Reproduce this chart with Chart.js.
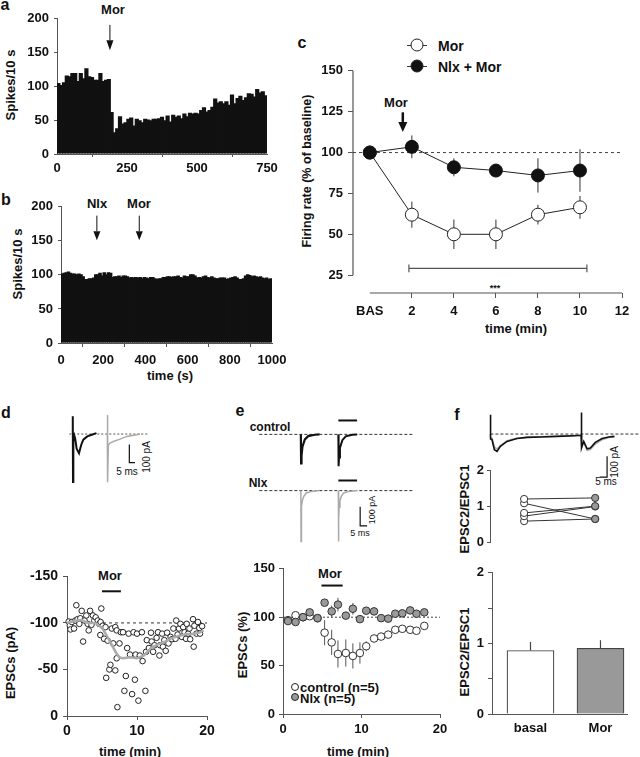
<!DOCTYPE html>
<html>
<head>
<meta charset="utf-8">
<script src="https://cdn.jsdelivr.net/npm/chart.js@4.4.1/dist/chart.umd.min.js"></script>
<style>
  html, body { margin: 0; padding: 0; background: #fff; }
  #fig { position: relative; width: 640px; height: 757px; overflow: hidden;
         font-family: "Liberation Sans", Arial, Helvetica, sans-serif; color: #111; }
  #fig canvas { position: absolute; }
  .t { position: absolute; transform: translate(-50%, -50%); white-space: nowrap;
       font-weight: bold; font-size: 13px; line-height: 1; }
  .l { transform: translate(0, -50%); }
  .r90 { transform: translate(-50%, -50%) rotate(-90deg); }
  .big { font-size: 16px; }
  .thin { font-weight: normal; font-size: 10px; }
  .dot { position: absolute; border-radius: 50%; box-sizing: border-box; border: 1px solid #222;
         transform: translate(-50%, -50%); }
  .stub { position: absolute; height: 1px; background: #333; }
</style>
</head>
<body>
<div id="fig">
  <!-- panel a / b -->
  <div class="t big" style="left:5px;top:5px">a</div>
  <div class="t" style="left:113px;top:9px">Mor</div>
  <div class="t r90" style="left:10px;top:85px">Spikes/10 s</div>
  <div class="t big" style="left:6px;top:200px">b</div>
  <div class="t" style="left:97px;top:203px">Nlx</div>
  <div class="t" style="left:139px;top:203px">Mor</div>
  <div class="t r90" style="left:17px;top:264px">Spikes/10 s</div>
  <div class="t" style="left:170px;top:375px">time (s)</div>

  <!-- panel c -->
  <div class="t big" style="left:302px;top:43px">c</div>
  <div class="stub" style="left:407px;top:45px;width:20px"></div>
  <span class="dot" style="left:417px;top:45px;width:13px;height:13px;background:#fff"></span>
  <div class="t l" style="left:438px;top:46px;font-size:14px">Mor</div>
  <div class="stub" style="left:407px;top:66px;width:20px"></div>
  <span class="dot" style="left:417px;top:66px;width:13px;height:13px;background:#111"></span>
  <div class="t l" style="left:438px;top:67px;font-size:14px">Nlx + Mor</div>
  <div class="t" style="left:396px;top:102px">Mor</div>
  <div class="t r90" style="left:307px;top:171px;font-size:12.5px">Firing rate (% of baseline)</div>
  <div class="t" style="left:495px;top:288px;font-size:9px">***</div>
  <div class="t" style="left:516px;top:328px">time (min)</div>

  <!-- panel d -->
  <div class="t big" style="left:6px;top:413px">d</div>
  <div class="t thin" style="left:127px;top:472px">5 ms</div>
  <div class="t thin r90" style="left:147px;top:457px">100 pA</div>
  <div class="t" style="left:110px;top:575px">Mor</div>
  <div class="t r90" style="left:10px;top:663px">EPSCs (pA)</div>
  <div class="t" style="left:130px;top:751px">time (min)</div>

  <!-- panel e -->
  <div class="t big" style="left:240px;top:411px">e</div>
  <div class="t" style="left:270px;top:427px;font-size:12px">control</div>
  <div class="t" style="left:258px;top:483px;font-size:12px">Nlx</div>
  <div class="t thin r90" style="left:372px;top:510px;font-size:9px">100 pA</div>
  <div class="t thin" style="left:360px;top:533px;font-size:9px">5 ms</div>
  <div class="t" style="left:330px;top:573px">Mor</div>
  <div class="t r90" style="left:242px;top:645px">EPSCs (%)</div>
  <div class="t" style="left:358px;top:751px">time (min)</div>
  <span class="dot" style="left:295px;top:687px;width:8px;height:8px;background:#fff"></span>
  <div class="t l" style="left:300px;top:687px">control (n=5)</div>
  <span class="dot" style="left:295px;top:697px;width:8px;height:8px;background:#999"></span>
  <div class="t l" style="left:300px;top:698px">Nlx (n=5)</div>

  <!-- panel f -->
  <div class="t big" style="left:457px;top:415px">f</div>
  <div class="t thin r90" style="left:615px;top:462px">100 pA</div>
  <div class="t thin" style="left:606px;top:482px">5 ms</div>
  <div class="t r90" style="left:464px;top:509px">EPSC2/EPSC1</div>
  <div class="t r90" style="left:464px;top:652px">EPSC2/EPSC1</div>
</div>

<script>
// ----------------------------
// DATA
// ----------------------------
// a: spikes per 10 s bin, morphine at ~190 s
const aBinSec = 10;
const aCounts = [105,102,106,116,115,120,120,108,120,112,127,115,114,110,110,120,108,110,111,
  62,32,38,56,45,47,52,54,42,52,50,47,52,51,50,52,52,53,55,50,
  57,48,58,55,57,53,60,56,61,60,61,60,65,69,63,65,70,82,76,78,
  75,78,73,88,75,83,86,80,84,90,89,85,96,91,93,87];
const aArrowX = [189];
const aArrowTop = 191, aArrowTip = 153.6;

// b: spikes per 10 s bin, naloxone then morphine
const bBinSec = 10;
const bCounts = [102,103,104,105,103,102,102,101,102,101,
  98,94,94,95,95,96,101,101,103,99,
  104,101,104,103,97,98,98,99,97,99,
  99,98,96,97,96,97,96,97,95,97,
  96,95,97,97,95,94,95,95,97,97,
  98,98,97,98,98,99,97,96,99,98,
  98,101,101,99,96,97,96,98,99,97,
  96,98,96,95,95,96,96,96,94,95,
  96,97,98,96,94,94,95,99,101,100,
  98,99,98,97,98,96,95,96,94,95];
const bArrowX = [170, 371];
const bArrowTop = 187, bArrowTip = 151;

// c: firing rate (% of baseline)
const cTime = [0, 2, 4, 6, 8, 10];
const cMor = [100, 62, 50, 50, 62, 66.5];
const cMorErr = [0, 8, 9, 9, 6, 7];
const cNlx = [100, 103.5, 91, 89, 86, 89];
const cNlxErr = [0, 7, 5.5, 2, 10.5, 13];
const cYTicks = [25, 50, 75, 100, 125, 150];
const cXTicks = [0, 2, 4, 6, 8, 10, 12];
const cBracketX = [1.86, 1.86, 1.86, 10.33, 10.33, 10.33];
const cBracketY = [31.6, 26.8, 29.2, 29.2, 31.6, 26.8];
const cArrowX = [1.57];
const cArrowTop = 124.6, cArrowTip = 112.6;

// d: single-cell EPSCs (pA)
const dTime = [0.24,0.4,0.5,0.7,1,1.2,1.33,1.5,1.76,1.9,2.1,2.3,2.5,2.76,2.95,3.1,3.3,3.5,3.7,3.9,
  4.1,4.4,4.6,4.8,4.9,5.1,4.76,5.3,5.5,5.6,5.8,6.05,6.2,6.4,6.6,6.9,6.9,7.1,7.1,7.2,
  7.5,7.7,8,8.2,8.4,8.6,8.8,9,9.3,9.5,9.7,9.8,10,10.2,10.4,10.7,10.8,11.2,11.3,11.4,
  11.7,12,12.1,12.3,12.5,12.8,13,13.2,13.3,13.6,13.7,13.9,14.1,14.3,14.5,14.8,15,15.2,15.5,15.6,
  15.8,16,16.2,16.4,16.6,16.8,17,17.1,17.3,17.5,17.6,18,18.1,18.2,18.5,18.7,18.9,19,19.3];
const dEpsc = [-101.5,-97,-93,-101,-94,-102.6,-119,-104,-99,-105,-113,-80,-102.6,-108,-99,-92,-113,-98,-108,-102.6,
  -106,-102.6,-99,-101,-115.5,-97,-87,-83,-95.5,-41,-81,-50,-55,-94,-78,-95.5,-49,-92,-62,-9.5,
  -78,-90,-90,-27,-43,-73,-88.5,-66,-23.5,-90,-39,-66,-88.5,-16.5,-65,-90,-59,-27,-69,-81.5,
  -73,-89.5,-80,-69,-76,-84,-90,-65,-76,-88.5,-74.5,-81.5,-70,-89.5,-78,-85,-82.5,-94,-83,-102.6,
  -87.5,-94,-99,-85,-95.5,-90,-83,-99,-88.5,-94,-82.5,-104,-74.5,-97,-88.5,-101,-94.5,-88.5,-96.5];
const dAvgTime = [0,1,2,3,4,5,6,7,7.5,8,9,10,11,12,13,14,15,16,17,18,19,19.5];
const dAvg = [-100,-102,-103,-100,-100,-95,-82,-68,-63,-62,-63,-62,-65,-73,-77,-80,-84,-86,-88,-88,-90,-92];
const dMorBar = [5, 7.7];

// d traces (ms, pA)
const dBlackX = [0, 0.1, 0.3, 0.6, 1.5, 2.2, 3.5, 5.6, 7.5, 9.4, 12.9, 16.8, 21];
const dBlackY = [0, 98, -263, -40, -10, -25, -80, -105, -60, -31, -13, -4, 5];
const dGrayX = [30.6, 30.7, 30.9, 31.5, 32.9, 35.9, 41.8, 47.6, 56.5, 59.4];
const dGrayY = [0, 105, -265, -60, -50, -41, -28, -13, -4, 0];
const dBaseX = [-3, 67];
const dScaleX = [50, 50, 55], dScaleY = [-57, -157, -157];

// e: normalised EPSCs (%)
const eTime = [0.64,1.6,2.55,3.4,4.4,5.3,6.2,7.0,8.0,8.9,9.8,10.6,11.6,12.5,13.4,14.3,15.2,16.2,17.0,18.0];
const eCtrl = [97,102,100,101,99,84,74,62,63,60,63,70,78,80,82,87,88,87,86,91];
const eCtrlErr = [2,2,2,2,2,13,13,14,14,13,11,5,3,2,2,2,2,2,2,2];
const eNlx = [96,95,100,105,99,115,106,113,101.6,108.7,98,106.7,106,99,98.5,103.6,104,107,103.6,105];
const eNlxErr = [2,2,2,2,2,3,6,7,3,6,2,3,3,2,2,2,2,2,2,2];
const eMorBar = [4.9, 7.6];

// e traces (ms, pA)
const eCtrl1X = [0, 0.2, 0.5, 1.2, 3, 5.5, 10.5, 14];
const eCtrl1Y = [0, -150, -110, -64, -26, -9, -2, 0];
const eCtrl2X = [28, 28.2, 28.5, 29.2, 31, 33.5, 38.5, 42];
const eCtrl2Y = [0, -165, -120, -70, -30, -10, -2, 0];
const eNlx1X = [0, 0.15, 0.3, 0.6, 1.2, 2.2, 4, 8, 14];
const eNlx1Y = [0, -262, -150, -81, -50, -29, -12, -4, 0];
const eNlx2X = [28, 28.15, 28.3, 28.6, 29.2, 30.2, 32, 36, 42];
const eNlx2Y = [0, -262, -150, -85, -52, -30, -12, -4, 0];
const eBaseX = [-31, 84];
const eBarX = [28, 42];
const eScaleX = [44.3, 44.3, 49.5], eScaleY = [-83, -181, -181];

// f: paired-pulse ratio
const fPairBasal = [1.21, 1.09, 0.82, 0.73, 0.59];
const fPairMor = [1.24, 0.65, 1.01, 1.0, 0.65];
const fBarLabels = ['basal', 'Mor'];
const fBarMeans = [0.9, 0.93];
const fBarSem = [0.12, 0.115];

// f traces (ms, pA)
const fBlackX = [0, 0, 0.2, 1.1, 2.7, 4.5, 6.8, 11.3, 18.1, 24.9, 34, 45.4, 56.7, 61.7, 61.9, 62.1, 63.5, 65.8, 68, 71.4, 76, 80.5, 84.4];
const fBlackY = [0, 92, -24, -27, -75, -83, -59, -35, -21, -16, -14, -11, -8, -6, 103, -67, -35, -71, -67, -40, -21, -14, -11];
const fGrayX = [0.3, 1.1, 2.7, 4.5, 6.8, 11.3, 18.1, 24.9, 34, 45.4, 56.7, 61.7, 62.3, 63.5, 65.8, 68, 71.4, 76, 80.5, 84.4];
const fGrayY = [-15, -20, -62, -72, -55, -32, -20, -15, -13, -10, -8, -6, -50, -40, -78, -74, -48, -27, -17, -13];
const fBaseX = [0, 101.6];
const fScaleX = [74.4, 79.4, 79.4], fScaleY = [-206, -206, -106];

// ----------------------------
// HELPERS
// ----------------------------
Chart.defaults.font.family = '"Liberation Sans", Arial, Helvetica, sans-serif';
Chart.defaults.font.weight = 'bold';
Chart.defaults.font.size = 13;
Chart.defaults.color = '#111';
Chart.defaults.plugins.legend.display = false;
Chart.defaults.plugins.tooltip.enabled = false;
Chart.defaults.events = [];

const fig = document.getElementById('fig');

function series(xs, ys) {
  return xs.map((x, i) => ({ x, y: ys[i] }));
}

// area = chart area in page pixels, pad = room for the axes around it
function addChart(area, pad, config) {
  const [x1, y1, x2, y2] = area;
  const [pl, pt, pr, pb] = pad;
  const w = x2 - x1 + pl + pr, h = y2 - y1 + pt + pb;
  const cv = document.createElement('canvas');
  cv.width = w; cv.height = h;
  cv.style.left = (x1 - pl) + 'px';
  cv.style.top = (y1 - pt) + 'px';
  cv.style.width = w + 'px';
  cv.style.height = h + 'px';
  fig.appendChild(cv);

  const sc = config.options.scales;
  const xShown = sc.x.display !== false, yShown = sc.y.display !== false;
  if (xShown) sc.x.afterFit = s => { s.height = pb; };
  if (yShown) sc.y.afterFit = s => { s.width = pl; };
  config.options.layout = { padding: { left: yShown ? 0 : pl, top: pt, right: pr, bottom: xShown ? 0 : pb } };
  config.options.responsive = false;
  config.options.animation = false;
  return new Chart(cv, config);
}

function axis(min, max, o = {}) {
  const a = {
    type: 'linear', min, max, offset: false, reverse: !!o.reverse,
    grid: { drawOnChartArea: false, drawTicks: true, tickLength: o.tick ?? 4, color: '#555', lineWidth: 1 },
    border: { display: o.border !== false, color: '#555', width: 1 },
    ticks: { padding: o.pad ?? 4, autoSkip: false, maxRotation: 0,
             font: { size: o.size ?? 13, weight: 'bold' }, color: '#111',
             callback: o.cb || (v => String(v)) }
  };
  if (o.step) a.ticks.stepSize = o.step;
  if (o.ticks) a.afterBuildTicks = s => { s.ticks = o.ticks.map(v => ({ value: v })); };
  return a;
}

function hidden(min, max) {
  return { type: 'linear', min, max, display: false };
}

function line(data, color, width, extra = {}) {
  return Object.assign({ data, borderColor: color, borderWidth: width, pointRadius: 0, clip: false, tension: 0 }, extra);
}

// vertical error bars from dataset.err
const errorBars = {
  id: 'errorBars',
  beforeDatasetsDraw(chart) {
    const { ctx, scales: { x, y } } = chart;
    chart.data.datasets.forEach(ds => {
      if (!ds.err) return;
      ctx.save();
      ctx.strokeStyle = ds.errColor || '#333';
      ctx.lineWidth = ds.errWidth || 1;
      ds.data.forEach((p, i) => {
        const e = ds.err[i];
        if (!e) return;
        const px = x.getPixelForValue(p.x);
        ctx.beginPath();
        ctx.moveTo(px, y.getPixelForValue(ds.errUpOnly ? p.y : p.y - e));
        ctx.lineTo(px, y.getPixelForValue(p.y + e));
        ctx.stroke();
      });
      ctx.restore();
    });
  }
};

function arrows(xs, top, tip, head, width) {
  return {
    id: 'arrows',
    afterDatasetsDraw(chart) {
      const { ctx, scales: { x, y } } = chart;
      ctx.save();
      ctx.fillStyle = ctx.strokeStyle = '#111';
      ctx.lineWidth = width;
      xs.forEach(v => {
        const px = x.getPixelForValue(v);
        const y1 = y.getPixelForValue(top), y2 = y.getPixelForValue(tip);
        ctx.beginPath();
        ctx.moveTo(px, y1);
        ctx.lineTo(px, y2 - head[1]);
        ctx.stroke();
        ctx.beginPath();
        ctx.moveTo(px - head[0] / 2, y2 - head[1]);
        ctx.lineTo(px + head[0] / 2, y2 - head[1]);
        ctx.lineTo(px, y2);
        ctx.closePath();
        ctx.fill();
      });
      ctx.restore();
    }
  };
}

// ----------------------------
// PANEL a
// ----------------------------
addChart([57, 16, 267, 154], [50, 10, 20, 24], {
  type: 'bar',
  data: { datasets: [{
    data: aCounts.map((v, i) => ({ x: (i + 0.5) * aBinSec, y: v })),
    backgroundColor: '#111', borderWidth: 0, barPercentage: 1.5, categoryPercentage: 1
  }] },
  options: { scales: {
    x: axis(0, 750, { step: 250, tick: 3, pad: 4 }),
    y: axis(0, 200, { step: 50, tick: 3, pad: 5 })
  } },
  plugins: [arrows(aArrowX, aArrowTop, aArrowTip, [7, 10], 1)]
});

// ----------------------------
// PANEL b
// ----------------------------
addChart([61, 204, 272, 343], [54, 10, 22, 26], {
  type: 'bar',
  data: { datasets: [{
    data: bCounts.map((v, i) => ({ x: (i + 0.5) * bBinSec, y: v })),
    backgroundColor: '#111', borderWidth: 0, barPercentage: 1.7, categoryPercentage: 1
  }] },
  options: { scales: {
    x: axis(0, 1000, { step: 200, tick: 4, pad: 6 }),
    y: axis(0, 200, { step: 50, tick: 3, pad: 5 })
  } },
  plugins: [arrows(bArrowX, bArrowTop, bArrowTip, [7, 9], 1)]
});

// ----------------------------
// PANEL c
// ----------------------------
const cAxisLines = {
  id: 'cAxisLines',
  beforeDatasetsDraw(chart) {
    const { ctx, chartArea: a, scales: { x, y } } = chart;
    ctx.save();
    ctx.strokeStyle = '#555';
    ctx.lineWidth = 1.2;
    ctx.beginPath();
    ctx.moveTo(a.left, y.getPixelForValue(cYTicks[0]));
    ctx.lineTo(a.left, y.getPixelForValue(cYTicks[cYTicks.length - 1]));
    ctx.moveTo(x.getPixelForValue(cXTicks[0]), a.bottom);
    ctx.lineTo(x.getPixelForValue(cXTicks[cXTicks.length - 1]), a.bottom);
    ctx.stroke();
    ctx.restore();
  }
};
const cX = axis(-0.8, 12, { ticks: cXTicks, border: false, tick: 5, pad: 6, cb: v => v === 0 ? 'BAS' : String(v) });
cX.grid.color = c => (c.tick && c.tick.value === 0) ? 'rgba(0,0,0,0)' : '#555';
addChart([353, 68, 622, 293], [40, 10, 14, 26], {
  type: 'line',
  data: { datasets: [
    line(series(cTime, cNlx), '#222', 1, { err: cNlxErr, pointRadius: 6.5,
      pointBackgroundColor: '#111', pointBorderColor: '#111', pointBorderWidth: 1 }),
    line(series(cTime, cMor), '#222', 1, { err: cMorErr, pointRadius: 6.5,
      pointBackgroundColor: '#fff', pointBorderColor: '#222', pointBorderWidth: 1 }),
    line([{ x: -0.8, y: 100 }, { x: 12, y: 100 }], '#444', 1, { borderDash: [3, 3] }),
    line(series(cBracketX, cBracketY), '#555', 1.2)
  ] },
  options: { scales: {
    x: cX,
    y: axis(14.1, 150, { ticks: cYTicks, border: false, tick: 5, pad: 5 })
  } },
  plugins: [errorBars, cAxisLines, arrows(cArrowX, cArrowTop, cArrowTip, [9, 10], 2.5)]
});

// ----------------------------
// PANEL d
// ----------------------------
addChart([67, 414, 152, 485], [0, 0, 0, 0], {
  type: 'line',
  data: { datasets: [
    line(series(dBlackX, dBlackY), '#111', 2),
    line(series(dGrayX, dGrayY), '#aaa', 1.5),
    line(series(dBaseX, [0, 0]), '#555', 1, { borderDash: [2, 2] }),
    line(series(dScaleX, dScaleY), '#111', 1.2)
  ] },
  options: { scales: { x: hidden(-5, 70), y: hidden(-280, 110) } }
});

addChart([67, 573, 207, 716], [44, 10, 14, 24], {
  type: 'line',
  data: { datasets: [
    line(series(dAvgTime, dAvg), '#aaa', 2.5),
    line(series(dTime, dEpsc), '#222', 1, { showLine: false, pointRadius: 2.8,
      pointBackgroundColor: '#fff', pointBorderColor: '#222', pointBorderWidth: 1 }),
    line([{ x: 0, y: -100 }, { x: 20, y: -100 }], '#333', 1, { borderDash: [3, 3] }),
    line(series(dMorBar, [-134, -134]), '#111', 2)
  ] },
  options: { scales: {
    x: axis(0, 20, { step: 10, tick: 4, pad: 3, size: 14 }),
    y: axis(-150, 0, { step: 50, reverse: true, tick: 4, pad: 5, size: 14 })
  } }
});

// ----------------------------
// PANEL e
// ----------------------------
addChart([258, 417, 416, 473], [0, 0, 0, 0], {
  type: 'line',
  data: { datasets: [
    line(series(eCtrl1X, eCtrl1Y), '#111', 2.2),
    line(series(eCtrl2X, eCtrl2Y), '#111', 2),
    line(series(eBaseX, [0, 0]), '#333', 1, { borderDash: [3, 2] }),
    line(series(eBarX, [72, 72]), '#111', 2)
  ] },
  options: { scales: { x: hidden(-32, 86), y: hidden(-200, 90) } }
});

addChart([258, 477, 416, 547], [0, 0, 0, 0], {
  type: 'line',
  data: { datasets: [
    line(series(eNlx1X, eNlx1Y), '#aaa', 1.5),
    line(series(eNlx2X, eNlx2Y), '#aaa', 1.5),
    line(series(eBaseX, [0, 0]), '#333', 1, { borderDash: [3, 2] }),
    line(series(eBarX, [52, 52]), '#111', 2),
    line(series(eScaleX, eScaleY), '#111', 1.2)
  ] },
  options: { scales: { x: hidden(-32, 86), y: hidden(-290, 70) } }
});

addChart([283, 567, 440, 714], [38, 10, 14, 24], {
  type: 'line',
  data: { datasets: [
    line(series(eTime, eNlx), '#333', 1, { showLine: false, err: eNlxErr, errColor: '#555', pointRadius: 3.8,
      pointBackgroundColor: '#999', pointBorderColor: '#333', pointBorderWidth: 1 }),
    line(series(eTime, eCtrl), '#333', 1, { showLine: false, err: eCtrlErr, errColor: '#555', pointRadius: 3.8,
      pointBackgroundColor: '#fff', pointBorderColor: '#333', pointBorderWidth: 1 }),
    line([{ x: 0, y: 100 }, { x: 20, y: 100 }], '#444', 1, { borderDash: [2, 2] }),
    line(series(eMorBar, [132.7, 132.7]), '#111', 2)
  ] },
  options: { scales: {
    x: axis(0, 20, { step: 10, tick: 4, pad: 4 }),
    y: axis(0, 150, { step: 50, tick: 4, pad: 4 })
  } },
  plugins: [errorBars]
});

// ----------------------------
// PANEL f
// ----------------------------
addChart([486, 409, 640, 480], [0, 0, 0, 0], {
  type: 'line',
  data: { datasets: [
    line(series(fBlackX, fBlackY), '#111', 1.6),
    line(series(fGrayX, fGrayY), '#aaa', 1.5),
    line(series(fBaseX, [0, 0]), '#333', 1, { borderDash: [3, 2] }),
    line(series(fScaleX, fScaleY), '#111', 1.2)
  ] },
  options: { scales: { x: hidden(-3, 101.8), y: hidden(-220, 120) } }
});

addChart([490, 468, 630, 547], [26, 8, 8, 6], {
  type: 'line',
  data: { datasets: fPairBasal.map((b, i) => line(
    [{ x: 0, y: b }, { x: 1, y: fPairMor[i] }], '#333', 1,
    { pointRadius: 3.6, pointBackgroundColor: ['#fff', '#999'], pointBorderColor: '#333', pointBorderWidth: 1 })) },
  options: { scales: {
    x: hidden(-0.48, 1.49),
    y: axis(0, 2, { step: 1, tick: 3, pad: 3 })
  } }
});

const fX = axis(-0.55, 1.379, { ticks: [0, 1], pad: 7, cb: v => fBarLabels[v] ?? '' });
fX.grid.drawTicks = false;
addChart([492, 569, 627, 714], [28, 8, 10, 22], {
  type: 'bar',
  data: { datasets: [{
    data: series([0, 1], fBarMeans), err: fBarSem, errUpOnly: true, errColor: '#444', errWidth: 1.2,
    backgroundColor: ['#fff', '#999'], borderColor: '#444', borderWidth: 1.2, barThickness: 47
  }] },
  options: { scales: {
    x: fX,
    y: axis(0, 2, { ticks: [0, 0.5, 1, 1.5, 2], tick: 4, pad: 4, cb: v => Number.isInteger(v) ? String(v) : '' })
  } },
  plugins: [errorBars]
});
</script>
</body>
</html>
